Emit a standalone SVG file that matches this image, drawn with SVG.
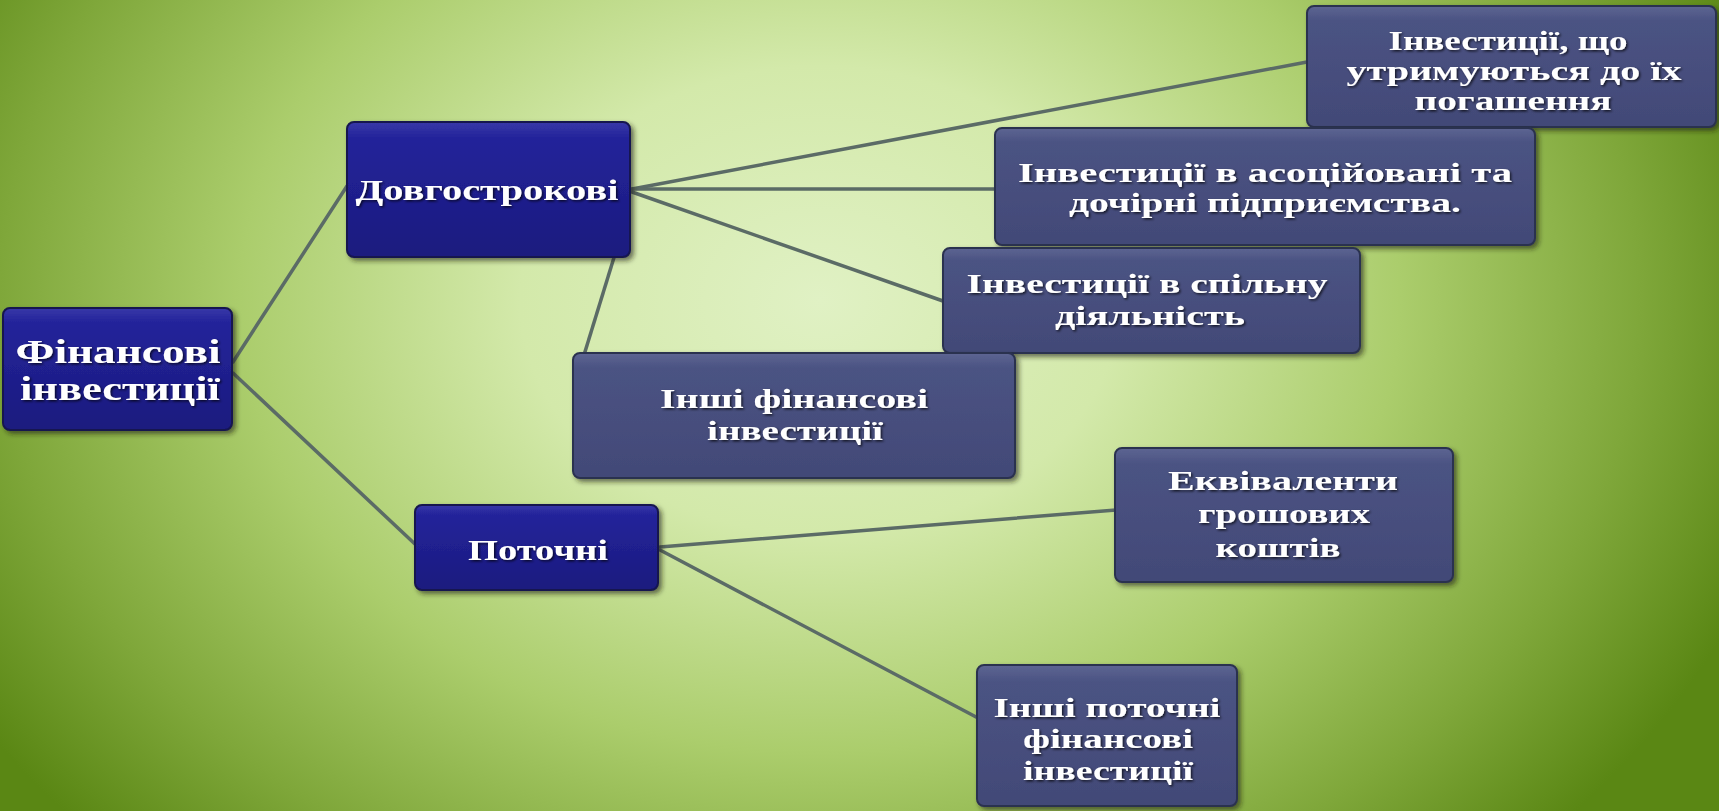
<svg xmlns="http://www.w3.org/2000/svg" width="1719" height="811" viewBox="0 0 1719 811">
<defs>
<radialGradient id="bg" gradientUnits="userSpaceOnUse" cx="820" cy="300" r="1000" gradientTransform="translate(820 300) scale(1 0.78) translate(-820 -300)">
<stop offset="0" stop-color="#e0f1c4"/>
<stop offset="0.3" stop-color="#d3e9aa"/>
<stop offset="0.58" stop-color="#abcd6c"/>
<stop offset="0.82" stop-color="#7fa73a"/>
<stop offset="1" stop-color="#5a8714"/>
</radialGradient>
<linearGradient id="blue" x1="0" y1="0" x2="0" y2="1">
<stop offset="0" stop-color="#3838a8"/>
<stop offset="0.12" stop-color="#23239a"/>
<stop offset="1" stop-color="#1b1b7e"/>
</linearGradient>
<linearGradient id="slate" x1="0" y1="0" x2="0" y2="1">
<stop offset="0" stop-color="#5d6592"/>
<stop offset="0.12" stop-color="#4b5383"/>
<stop offset="1" stop-color="#424977"/>
</linearGradient>
<filter id="sh" x="-10%" y="-10%" width="125%" height="130%">
<feDropShadow dx="3" dy="3" stdDeviation="2.5" flood-color="#1a2410" flood-opacity="0.6"/>
</filter>
<filter id="ts" x="-5%" y="-20%" width="110%" height="150%">
<feDropShadow dx="1.5" dy="1.5" stdDeviation="0.8" flood-color="#000" flood-opacity="0.7"/>
</filter>
</defs>
<style>
.b{fill:url(#blue);stroke:#15154f;stroke-width:2;filter:url(#sh)}
.s{fill:url(#slate);stroke:#2b3150;stroke-width:2;filter:url(#sh)}
text{font-family:"Liberation Serif","Times New Roman",serif;font-weight:bold;fill:#ffffff;text-anchor:middle;filter:url(#ts)}
.t28{font-size:28px}
.t30{font-size:30px}
.t34{font-size:34px}
.c line{stroke:#5b6b66;stroke-width:3.5;stroke-linecap:round}
</style>
<rect x="0" y="0" width="1719" height="811" fill="url(#bg)"/>
<g class="c" id="connectors">
<line x1="233" y1="362" x2="347" y2="186"/>
<line x1="233" y1="373" x2="416" y2="545"/>
<line x1="632" y1="189" x2="1307" y2="62"/>
<line x1="632" y1="189" x2="996" y2="189"/>
<line x1="632" y1="192" x2="943" y2="301"/>
<line x1="628" y1="212" x2="584" y2="355"/>
<line x1="660" y1="547" x2="1116" y2="510"/>
<line x1="660" y1="550" x2="978" y2="718"/>
</g>
<g id="n-fin">
<rect class="b" x="3" y="308" width="229" height="122" rx="7"/>
<text class="t34" x="118" y="363" textLength="205" lengthAdjust="spacingAndGlyphs">Фінансові</text>
<text class="t34" x="120" y="400" textLength="200" lengthAdjust="spacingAndGlyphs">інвестиції</text>
</g>
<g id="n-dovh">
<rect class="b" x="347" y="122" width="283" height="135" rx="7"/>
<text class="t30" x="487" y="200" textLength="263" lengthAdjust="spacingAndGlyphs">Довгострокові</text>
</g>
<g id="n-potoch">
<rect class="b" x="415" y="505" width="243" height="85" rx="7"/>
<text class="t30" x="538" y="560" textLength="140" lengthAdjust="spacingAndGlyphs">Поточні</text>
</g>
<g id="n-utr">
<rect class="s" x="1307" y="6" width="409" height="121" rx="7"/>
<text class="t28" x="1508" y="50" textLength="239" lengthAdjust="spacingAndGlyphs">Інвестиції, що</text>
<text class="t28" x="1514" y="80" textLength="335" lengthAdjust="spacingAndGlyphs">утримуються до їх</text>
<text class="t28" x="1513" y="110" textLength="197" lengthAdjust="spacingAndGlyphs">погашення</text>
</g>
<g id="n-asoc">
<rect class="s" x="995" y="128" width="540" height="117" rx="7"/>
<text class="t28" x="1265" y="182" textLength="494" lengthAdjust="spacingAndGlyphs">Інвестиції в асоційовані та</text>
<text class="t28" x="1265" y="212" textLength="392" lengthAdjust="spacingAndGlyphs">дочірні підприємства.</text>
</g>
<g id="n-spil">
<rect class="s" x="943" y="248" width="417" height="105" rx="7"/>
<text class="t28" x="1147" y="293" textLength="361" lengthAdjust="spacingAndGlyphs">Інвестиції в спільну</text>
<text class="t28" x="1150" y="325" textLength="190" lengthAdjust="spacingAndGlyphs">діяльність</text>
</g>
<g id="n-inshi">
<rect class="s" x="573" y="353" width="442" height="125" rx="7"/>
<text class="t28" x="794" y="408" textLength="268" lengthAdjust="spacingAndGlyphs">Інші фінансові</text>
<text class="t28" x="795" y="440" textLength="176" lengthAdjust="spacingAndGlyphs">інвестиції</text>
</g>
<g id="n-ekv">
<rect class="s" x="1115" y="448" width="338" height="134" rx="7"/>
<text class="t28" x="1283" y="490" textLength="230" lengthAdjust="spacingAndGlyphs">Еквіваленти</text>
<text class="t28" x="1284" y="523" textLength="172" lengthAdjust="spacingAndGlyphs">грошових</text>
<text class="t28" x="1278" y="557" textLength="125" lengthAdjust="spacingAndGlyphs">коштів</text>
</g>
<g id="n-potfin">
<rect class="s" x="977" y="665" width="260" height="141" rx="7"/>
<text class="t28" x="1107" y="717" textLength="227" lengthAdjust="spacingAndGlyphs">Інші поточні</text>
<text class="t28" x="1108" y="748" textLength="170" lengthAdjust="spacingAndGlyphs">фінансові</text>
<text class="t28" x="1108" y="780" textLength="170" lengthAdjust="spacingAndGlyphs">інвестиції</text>
</g>
</svg>
